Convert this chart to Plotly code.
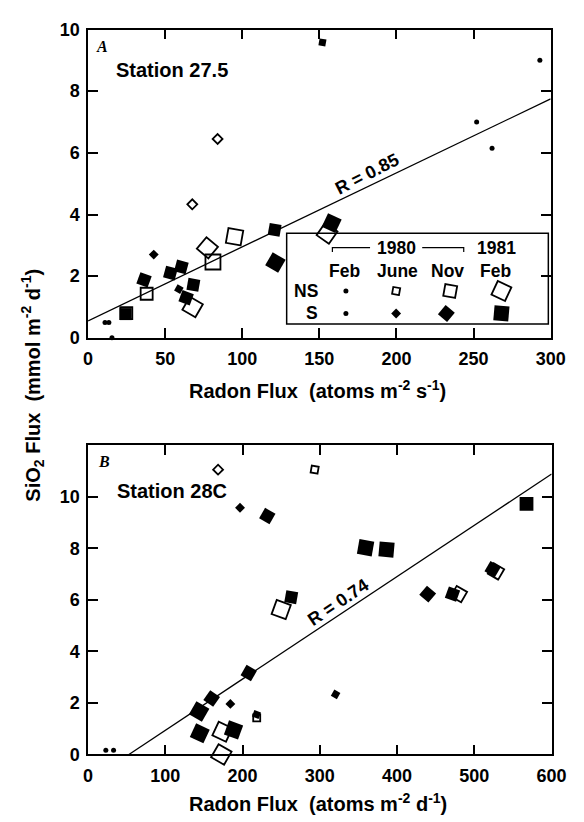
import plotly.graph_objects as go

W, H = 584, 822

# ---------------- Panel A: Station 27.5 (Radon flux atoms m-2 s-1) ----------------
a_feb80_x = [11, 13.5, 15.5, 252, 262, 293]
a_feb80_y = [0.5, 0.5, 0.0, 7.0, 6.15, 9.0]
a_ns_jun_x = [67.6, 84]
a_ns_jun_y = [4.33, 6.45]
a_s_jun_x = [42.6, 58.9, 152]
a_s_jun_y = [2.70, 1.58, 9.58]
a_ns_nov_x = [24.8, 38]
a_ns_nov_y = [0.80, 1.43]
a_s_nov_x = [24.4, 36.3, 53.4, 60.5, 63.6, 68.3, 121]
a_s_nov_y = [0.77, 1.88, 2.10, 2.30, 1.30, 1.72, 3.50]
a_ns_feb81_x = [67.8, 77.4, 81, 95, 155]
a_ns_feb81_y = [1.0, 2.92, 2.46, 3.28, 3.39]
a_s_feb81_x = [121.5, 158]
a_s_feb81_y = [2.44, 3.72]
a_fit_x = [0, 300]
a_fit_y = [0.55, 7.75]
a_r_label = "R = 0.85"

# ---------------- Panel B: Station 28C (Radon flux atoms m-2 d-1) ----------------
b_feb80_x = [23, 33]
b_feb80_y = [0.16, 0.16]
b_ns_jun_x = [168.3, 293.3, 218.3]
b_ns_jun_y = [11.05, 11.05, 1.42]
b_s_jun_x = [196.7, 184.2, 218, 320.4]
b_s_jun_y = [9.57, 1.96, 1.55, 2.33]
b_ns_nov_x = [480, 528, 567.5]
b_ns_nov_y = [6.22, 7.10, 9.72]
b_s_nov_x = [232, 263, 208, 160, 439.6, 471.7, 523.7, 567]
b_s_nov_y = [9.25, 6.10, 3.16, 2.17, 6.22, 6.22, 7.19, 9.75]
b_ns_feb81_x = [250, 173.8, 172.5]
b_ns_feb81_y = [5.62, 0.88, 0.0]
b_s_feb81_x = [143.8, 144.6, 188.3, 359.2, 386.3]
b_s_feb81_y = [1.67, 0.82, 0.95, 8.02, 7.95]
b_fit_x = [52.9, 600]
b_fit_y = [0, 10.88]
b_r_label = "R = 0.74"

# legend text
legend_years = ["1980", "1981"]
legend_months = ["Feb", "June", "Nov", "Feb"]
legend_rows = ["NS", "S"]

# ---------------- styles (separate from data) ----------------
a_s_jun_ang = [45, 30, 10]
a_s_nov_ang = [0, 20, 15, 15, 20, 10, 10]
a_ns_jun_ang = [45, 45]
a_ns_nov_ang = [0, 0]
a_ns_feb81_ang = [30, 40, 0, 10, 35]
a_s_feb81_ang = [30, 25]
b_ns_jun_ang = [45, 10, 0]
b_s_jun_ang = [45, 45, 20, 30]
b_ns_nov_ang = [30, 30, 0]
b_s_nov_ang = [30, 10, 30, 35, 40, 20, 30, 0]
b_ns_feb81_ang = [20, 25, 30]
b_s_feb81_ang = [30, 25, 20, 10, 5]

FONT = "Liberation Sans, Arial, Helvetica, sans-serif"
SIZES = {"feb80": 5, "jun": 7, "nov": 12, "feb81": 15}

fig = go.Figure()


def add_group(xs, ys, xa, ya, kind, filled, angles=None):
    sym = "circle" if kind == "feb80" else ("square" if filled else "square-open")
    marker = dict(symbol=sym, size=SIZES[kind], color="black",
                  line=dict(width=1.8 if not filled else 0, color="black"))
    if angles is not None:
        marker["angle"] = angles
    fig.add_trace(go.Scatter(x=xs, y=ys, mode="markers", marker=marker,
                             xaxis=xa, yaxis=ya, cliponaxis=False,
                             showlegend=False, hoverinfo="skip"))


# panel A
fig.add_trace(go.Scatter(x=a_fit_x, y=a_fit_y, mode="lines",
                         line=dict(color="black", width=1.3),
                         xaxis="x", yaxis="y", showlegend=False, hoverinfo="skip"))
add_group(a_feb80_x, a_feb80_y, "x", "y", "feb80", True)
add_group(a_s_jun_x, a_s_jun_y, "x", "y", "jun", True, a_s_jun_ang)
add_group(a_s_nov_x, a_s_nov_y, "x", "y", "nov", True, a_s_nov_ang)
add_group(a_s_feb81_x, a_s_feb81_y, "x", "y", "feb81", True, a_s_feb81_ang)
add_group(a_ns_jun_x, a_ns_jun_y, "x", "y", "jun", False, a_ns_jun_ang)
add_group(a_ns_nov_x, a_ns_nov_y, "x", "y", "nov", False, a_ns_nov_ang)
add_group(a_ns_feb81_x, a_ns_feb81_y, "x", "y", "feb81", False, a_ns_feb81_ang)

# panel B
fig.add_trace(go.Scatter(x=b_fit_x, y=b_fit_y, mode="lines",
                         line=dict(color="black", width=1.3),
                         xaxis="x2", yaxis="y2", showlegend=False, hoverinfo="skip"))
add_group(b_feb80_x, b_feb80_y, "x2", "y2", "feb80", True)
add_group(b_s_jun_x, b_s_jun_y, "x2", "y2", "jun", True, b_s_jun_ang)
add_group(b_s_nov_x, b_s_nov_y, "x2", "y2", "nov", True, b_s_nov_ang)
add_group(b_s_feb81_x, b_s_feb81_y, "x2", "y2", "feb81", True, b_s_feb81_ang)
add_group(b_ns_jun_x, b_ns_jun_y, "x2", "y2", "jun", False, b_ns_jun_ang)
add_group(b_ns_nov_x, b_ns_nov_y, "x2", "y2", "nov", False, b_ns_nov_ang)
add_group(b_ns_feb81_x, b_ns_feb81_y, "x2", "y2", "feb81", False, b_ns_feb81_ang)

# legend key markers on a full-figure pixel overlay axis
key_cols = [353, 405, 461, 514]
key_ns_y = 288
key_s_y = 311
key_kinds = ["feb80", "jun", "nov", "feb81"]
key_ns_ang = [0, 10, 10, 25]
key_s_ang = [0, 45, 40, 5]
for i, k in enumerate(key_kinds):
    add_group([key_cols[i]], [key_ns_y], "x3", "y3", k, k == "feb80", [key_ns_ang[i]])
    add_group([key_cols[i] - (4 if i == 2 else 0)], [key_s_y], "x3", "y3", k, True, [key_s_ang[i]])


def px_dom_x(a, b):
    return [a / W, b / W]


def px_dom_y(top, bottom):
    return [1 - bottom / H, 1 - top / H]


axis_common = dict(showline=True, linewidth=1.5, linecolor="black", mirror="ticks",
                   ticks="inside", ticklen=10, tickwidth=1.5, tickcolor="black",
                   showgrid=False, zeroline=False,
                   tickfont=dict(family=FONT, size=18, color="black", weight="bold"))

fig.update_layout(
    width=W, height=H, margin=dict(l=0, r=0, t=0, b=0),
    paper_bgcolor="white", plot_bgcolor="rgba(0,0,0,0)",
    showlegend=False,
    xaxis=dict(domain=px_dom_x(86, 565), range=[0, 300], dtick=50, anchor="y",
               ticklabelstandoff=4, **axis_common),
    yaxis=dict(domain=px_dom_y(20, 336), range=[0, 10], dtick=2, anchor="x",
               ticklabelstandoff=3, **axis_common),
    xaxis2=dict(domain=px_dom_x(86, 566), range=[0, 600], dtick=100, anchor="y2",
                ticklabelstandoff=4, **axis_common),
    yaxis2=dict(domain=px_dom_y(446, 763), range=[0, 12], tickvals=[0, 2, 4, 6, 8, 10],
                anchor="x2", ticklabelstandoff=3, **axis_common),
    xaxis3=dict(domain=[0, 1], range=[0, W], visible=False, anchor="y3", fixedrange=True),
    yaxis3=dict(domain=[0, 1], range=[H, 0], visible=False, anchor="x3", fixedrange=True),
)

# legend box (in panel A data coordinates so it sits under the markers)
fig.add_shape(type="rect", xref="x", yref="y",
              x0=128.8, x1=298.5, y0=0.45, y1=3.39,
              line=dict(color="black", width=1.5), fillcolor="white", layer="below")
# 1980 bracket
fig.add_shape(type="path", xref="x3", yref="y3",
              path="M339,248 L339,243.5 L378,243.5", line=dict(color="black", width=1.2))
fig.add_shape(type="path", xref="x3", yref="y3",
              path="M432,243.5 L475,243.5 L475,248", line=dict(color="black", width=1.2))

ann = []


def txt(x, y, text, size=18, xanchor="center", yanchor="middle", angle=0, ref="3",
        font=FONT, weight="bold", **kw):
    ann.append(dict(x=x, y=y, xref="x" + ref, yref="y" + ref,
                    text=text, showarrow=False, xanchor=xanchor, yanchor=yanchor,
                    textangle=angle,
                    font=dict(family=font, size=size, color="black", weight=weight, **kw)))


txt(405.5, 244, legend_years[0], size=17.5)
txt(509, 244, legend_years[1], size=17.5)
for cx, m in zip([352, 406, 458, 508], legend_months):
    txt(cx, 267.5, m, size=17.5)
txt(326, 288, legend_rows[0], xanchor="right", size=17.5)
txt(326, 311, legend_rows[1], xanchor="right", size=17.5)

# panel labels
txt(100, 37, "A", size=16, font="Liberation Serif, Times New Roman, serif", style="italic")
txt(113, 61, "Station 27.5", size=20, xanchor="left")
txt(103, 463, "B", size=16, font="Liberation Serif, Times New Roman, serif", style="italic")
txt(114, 493, "Station 28C", size=20, xanchor="left")

# R labels in data coordinates
ann.append(dict(x=181, y=5.3, xref="x", yref="y", text=a_r_label, showarrow=False,
                textangle=-27, font=dict(family=FONT, size=18, color="black", weight="bold")))
ann.append(dict(x=324.6, y=5.9, xref="x2", yref="y2", text=b_r_label, showarrow=False,
                textangle=-34, font=dict(family=FONT, size=18, color="black", weight="bold")))

# axis titles
txt(323.5, 389, "Radon Flux  (atoms m<sup>-2</sup> s<sup>-1</sup>)", size=20)
txt(324, 812, "Radon Flux  (atoms m<sup>-2</sup> d<sup>-1</sup>)", size=20)
txt(29, 385, "SiO<sub>2</sub> Flux  (mmol m<sup>-2</sup> d<sup>-1</sup>)", size=20, angle=-90)

fig.update_layout(annotations=ann)
fig.write_html("out.html")
